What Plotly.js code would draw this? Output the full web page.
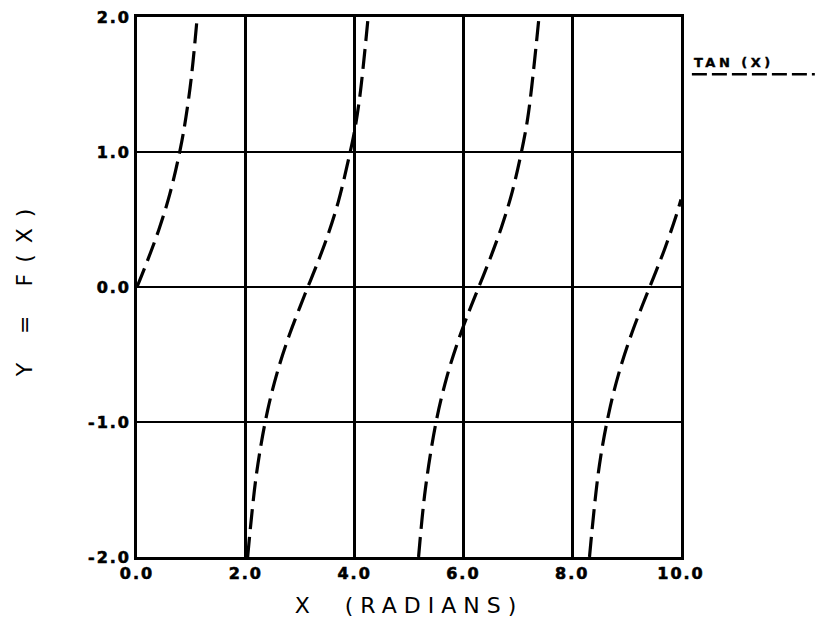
<!DOCTYPE html>
<html>
<head>
<meta charset="utf-8">
<script src="https://cdn.plot.ly/plotly-3.0.1.min.js"></script>
<style>
html,body{margin:0;padding:0;background:#fff;}
#chart{width:820px;height:631px;}
.xtick text,.ytick text{letter-spacing:2px;stroke:#000;stroke-width:0.6px;}
.xtitle{letter-spacing:7px;}
.ytitle{letter-spacing:11px;}
.annotation-text{letter-spacing:3.5px;stroke:#000;stroke-width:0.4px;}
</style>
</head>
<body>
<div id="chart"></div>
<script>
// Values (four branches of TAN(X))
const branch1X = [0, 0.2, 0.4, 0.6, 0.8, 0.9, 1.0, 1.107];
const branch1Y = [0, 0.203, 0.423, 0.684, 1.03, 1.26, 1.557, 2.0];
const branch2X = [2.034, 2.2, 2.4, 2.6, 2.8, 3.0, 3.14, 3.3, 3.5, 3.7, 3.9, 4.0, 4.1, 4.249];
const branch2Y = [-2.0, -1.374, -0.916, -0.602, -0.356, -0.143, 0.0, 0.159, 0.375, 0.631, 0.966, 1.158, 1.424, 2.0];
const branch3X = [5.176, 5.3, 5.5, 5.7, 5.9, 6.1, 6.3, 6.5, 6.7, 6.9, 7.1, 7.2, 7.39];
const branch3Y = [-2.0, -1.5, -0.996, -0.66, -0.403, -0.185, 0.017, 0.22, 0.443, 0.709, 1.066, 1.3, 2.0];
const branch4X = [8.318, 8.5, 8.7, 8.9, 9.1, 9.3, 9.5, 9.7, 9.9, 10.0];
const branch4Y = [-2.0, -1.32, -0.885, -0.58, -0.337, -0.126, 0.075, 0.282, 0.515, 0.648];

const xTickVals = [0, 2, 4, 6, 8, 10];
const xTickText = ['0.0', '2.0', '4.0', '6.0', '8.0', '10.0'];
const yTickVals = [-2, -1, 0, 1, 2];
const yTickText = ['-2.0', '-1.0', '0.0', '1.0', '2.0'];
const seriesName = 'TAN (X)';

const branches = [[branch1X, branch1Y], [branch2X, branch2Y], [branch3X, branch3Y], [branch4X, branch4Y]];
const traces = branches.map(b => ({
  x: b[0], y: b[1], type: 'scatter', mode: 'lines',
  line: {color: '#000', width: 3.2, dash: '20px,8px', shape: 'spline'},
  showlegend: false, hoverinfo: 'skip'
}));

const tickFont = {family: 'DejaVu Sans, sans-serif', size: 16, color: '#000', weight: 'bold'};
const titleFont = {family: 'DejaVu Sans, sans-serif', size: 22, color: '#000'};

const layout = {
  width: 820, height: 631,
  margin: {l: 137, r: 139, t: 17, b: 74},
  paper_bgcolor: '#fff', plot_bgcolor: '#fff',
  showlegend: false,
  xaxis: {
    range: [0, 10], tickvals: xTickVals, ticktext: xTickText,
    showgrid: true, gridcolor: '#000', gridwidth: 2.8,
    zeroline: false, showline: true, linecolor: '#000', linewidth: 2.8, mirror: true,
    ticks: '', ticklabelstandoff: 0,
    tickfont: tickFont,
    title: {text: 'X  (RADIANS)', font: titleFont, standoff: 16}
  },
  yaxis: {
    range: [-2, 2], tickvals: yTickVals, ticktext: yTickText,
    showgrid: true, gridcolor: '#000', gridwidth: 2.8,
    zeroline: false, showline: true, linecolor: '#000', linewidth: 2.8, mirror: true,
    ticks: '', tickfont: tickFont,
    title: {text: 'Y = F(X)', font: titleFont, standoff: 50}
  },
  annotations: [{
    xref: 'paper', yref: 'paper', x: 1.02, y: 0.915, xanchor: 'left', yanchor: 'middle',
    text: seriesName, showarrow: false,
    font: {family: 'DejaVu Sans, sans-serif', size: 13, color: '#000', weight: 'bold'}
  }],
  shapes: [{
    type: 'line', xref: 'paper', yref: 'paper', x0: 1.02, x1: 1.246, y0: 0.894, y1: 0.894,
    line: {color: '#000', width: 2.6, dash: '15px,5px'}
  }]
};

Plotly.newPlot('chart', traces, layout, {displayModeBar: false, staticPlot: true});
</script>
</body>
</html>
